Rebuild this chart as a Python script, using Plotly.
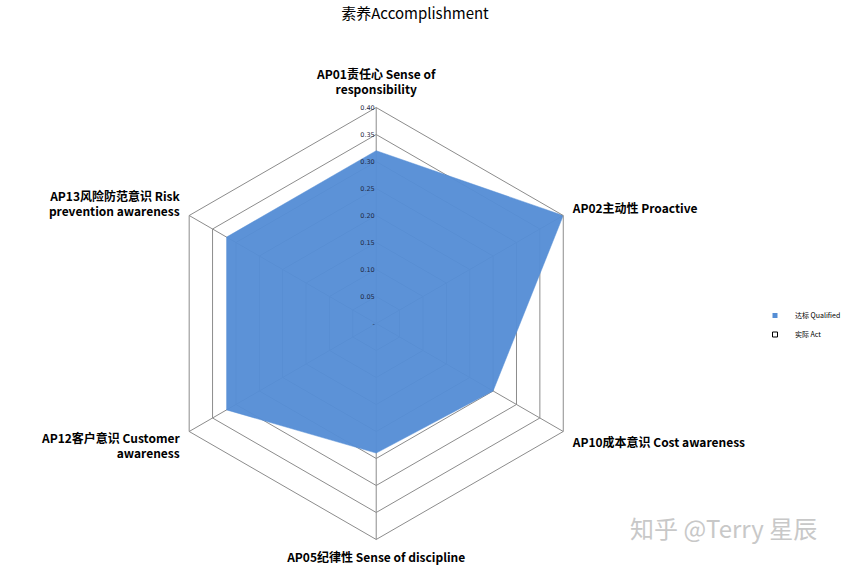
import plotly.graph_objects as go

# axes of the radar, clockwise from the top
categories = [
    "AP01责任心 Sense of<br>responsibility",
    "AP02主动性 Proactive",
    "AP10成本意识 Cost awareness",
    "AP05纪律性 Sense of discipline",
    "AP12客户意识 Customer<br>awareness",
    "AP13风险防范意识 Risk<br>prevention awareness",
]
qualified = [0.32, 0.40, 0.25, 0.24, 0.32, 0.32]

radial_ticks = [0, 0.05, 0.10, 0.15, 0.20, 0.25, 0.30, 0.35, 0.40]
radial_ticktext = ["-", "0.05", "0.10", "0.15", "0.20", "0.25", "0.30", "0.35", "0.40"]

W, H = 846, 565
cx, cy, rad = 378, 323.5, 217

BLUE = "rgba(85,142,213,0.96)"

fig = go.Figure()

fig.add_trace(go.Scatterpolar(
    r=qualified + qualified[:1],
    theta=categories + categories[:1],
    name="达标 Qualified",
    legendgroup="q",
    showlegend=False,
    mode="lines",
    fill="toself",
    fillcolor=BLUE,
    line=dict(color=BLUE, width=0.5),
    hoverinfo="r+theta",
))

# legend entries (small squares like the original)
fig.add_trace(go.Scatterpolar(
    r=[None], theta=[categories[0]],
    name="达标 Qualified",
    legendgroup="q",
    mode="markers",
    marker=dict(symbol="square", size=5, color="rgb(85,142,213)"),
))
fig.add_trace(go.Scatterpolar(
    r=[None], theta=[categories[0]],
    name="实际 Act",
    mode="markers",
    marker=dict(symbol="square", size=5, color="white",
                line=dict(color="black", width=1)),
))

fig.update_layout(
    width=W,
    height=H,
    margin=dict(l=0, r=0, t=0, b=0),
    paper_bgcolor="white",
    plot_bgcolor="white",
    font=dict(family="Noto Sans CJK SC", color="black"),
    title=dict(
        text="素养Accomplishment",
        x=415 / W,
        xanchor="center",
        y=1 - 8 / H,
        yanchor="top",
        font=dict(size=15, family="Noto Sans CJK SC", color="black"),
    ),
    polar=dict(
        domain=dict(
            x=[(cx - rad) / W, (cx + rad) / W],
            y=[1 - (cy + rad) / H, 1 - (cy - rad) / H],
        ),
        gridshape="linear",
        bgcolor="white",
        radialaxis=dict(
            range=[0, 0.40],
            angle=90,
            tickangle=90,
            tickvals=radial_ticks,
            ticktext=radial_ticktext,
            tickfont=dict(size=6.5, color="#1f2a44", family="DejaVu Sans"),
            showline=False,
            ticks="",
            gridcolor="#8c8c8c",
            gridwidth=1,
            side="counterclockwise",
            layer="above traces",
        ),
        angularaxis=dict(
            rotation=90,
            direction="clockwise",
            categoryorder="array",
            categoryarray=categories,
            tickfont=dict(size=12, color="black", family="Noto Sans CJK SC", weight="bold"),
            showline=True,
            linecolor="#8c8c8c",
            linewidth=1,
            gridcolor="#8c8c8c",
            gridwidth=1,
            ticks="outside",
            ticklen=8,
            tickcolor="rgba(0,0,0,0)",
            layer="above traces",
        ),
    ),
    legend=dict(
        x=(799 - 40) / W,
        y=1 - 301 / H,
        xanchor="left",
        yanchor="top",
        font=dict(size=7, family="Noto Sans CJK SC", color="black"),
        itemwidth=30,
        tracegroupgap=0,
        bgcolor="rgba(0,0,0,0)",
    ),
    showlegend=True,
)

# watermark
fig.add_annotation(
    text="知乎 @Terry 星辰",
    x=823 / W,
    y=1 - 527 / H,
    xref="paper",
    yref="paper",
    xanchor="right",
    yanchor="middle",
    showarrow=False,
    font=dict(size=24, color="#c8c8c8", family="Noto Sans CJK SC"),
)

# drop the default body margin so the 846x565 figure fills the window exactly
fig.write_html(
    "out.html",
    config={"displayModeBar": False},
    post_script="document.body.style.margin = '0';",
)
